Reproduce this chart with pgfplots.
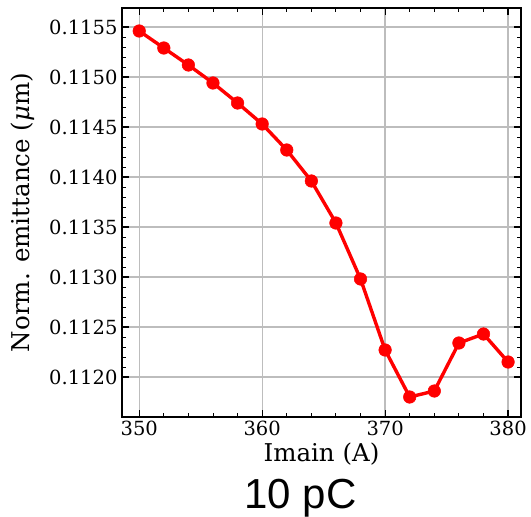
\documentclass[border=0pt]{standalone}
\usepackage{fontspec}
\setmainfont{DejaVu Serif}
\newfontfamily\arialf{Liberation Sans}
\usepackage{pgfplots}
\pgfplotsset{compat=1.18}
\begin{document}
\begin{tikzpicture}
\begin{axis}[
  scale only axis,
  width=399pt, height=409pt,
  xmin=348.6, xmax=381.05,
  ymin=0.11160, ymax=0.11569,
  xtick={350,360,370,380},
  ytick={0.1120,0.1125,0.1130,0.1135,0.1140,0.1145,0.1150,0.1155},
  yticklabel style={/pgf/number format/fixed,/pgf/number format/precision=4,/pgf/number format/zerofill, xshift=-1pt},
  scaled y ticks=false,
  /pgf/number format/assume math mode=true,
  minor x tick num=4,
  minor y tick num=4,
  tick align=inside,
  xtick pos=both, ytick pos=both,
  major tick length=7pt, minor tick length=4pt,
  every tick/.style={black, line width=1.2pt},
  every minor tick/.style={black, line width=0.9pt},
  axis line style={black, line width=1.3pt},
  grid=major,
  major grid style={color=black!26, line width=1.3pt},
  tick label style={font=\fontsize{19.5}{21}\selectfont},
  xticklabel style={yshift=0pt},
  xlabel={Imain (A)},
  ylabel={Norm. emittance ({\itshape μ}m)},
  label style={font=\fontsize{24.5}{26}\selectfont},
  xlabel style={at={(axis description cs:0.5,-0.1088)}, anchor=base},
  ylabel style={at={(axis description cs:-0.2306,0.5)}, anchor=base, rotate=0},
]
\addplot[red, line width=3.4pt, mark=*, mark size=6.3pt, mark options={fill=red, draw=red, line width=0.5pt}]
coordinates {
(350,0.11546) (352,0.11529) (354,0.11512) (356,0.11494) (358,0.11474)
(360,0.11453) (362,0.11427) (364,0.11396) (366,0.11354) (368,0.11298)
(370,0.11227) (372,0.11180) (374,0.11186) (376,0.11234) (378,0.11243)
(380,0.11215)
};
\end{axis}
\node[anchor=base, font=\arialf\fontsize{42}{44}\selectfont] at ([xshift=-21pt, yshift=-92pt]current axis.south) {10 pC};
\pgfresetboundingbox
\useasboundingbox ([xshift=-122pt, yshift=-100pt]current axis.south west) rectangle ([xshift=10pt, yshift=8pt]current axis.north east);
\end{tikzpicture}
\end{document}
